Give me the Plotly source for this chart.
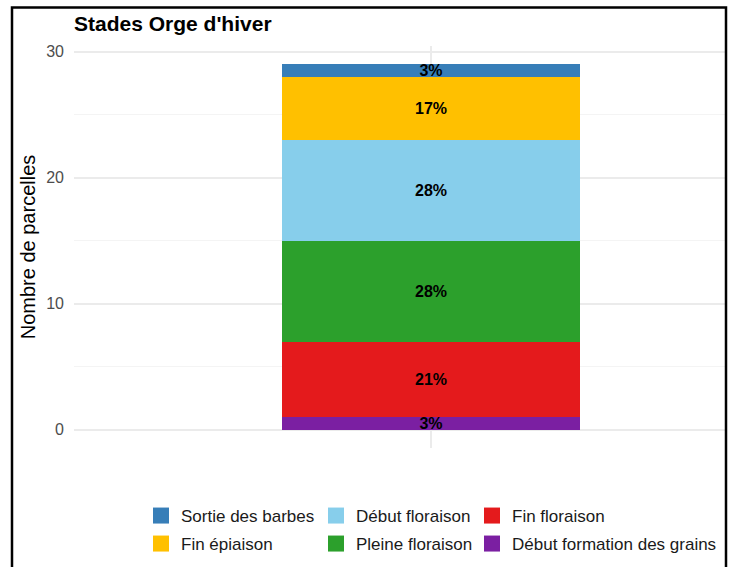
import plotly.graph_objects as go

# Data (bottom to top of stack)
stages = ["Début formation des grains", "Fin floraison", "Pleine floraison",
          "Début floraison", "Fin épiaison", "Sortie des barbes"]
counts = [1, 6, 8, 8, 5, 1]
colors = ["#7B1FA2", "#E41A1C", "#2CA02C", "#87CEEB", "#FFC000", "#377EB8"]
# legend slot for each stage (column, row) in the 3x2 key
legend_col = [2, 2, 1, 1, 0, 0]
legend_row = [1, 0, 1, 0, 1, 0]
category = ["Orge d'hiver"]
y_ticks = [0, 10, 20, 30]

total = sum(counts)
FONT = "Liberation Sans, Arial, sans-serif"

fig = go.Figure()
for name, n, col in zip(stages, counts, colors):
    fig.add_trace(go.Bar(
        x=[1], y=[n], width=0.5, name=name, showlegend=False,
        marker=dict(color=col, line=dict(width=0)),
        text=[f"{round(n / total * 100)}%"],
        textposition="inside", insidetextanchor="middle", textangle=0,
        constraintext="none",
        textfont=dict(family=FONT, size=16, color="black", weight="bold"),
        hovertext=category, cliponaxis=False,
    ))

L, R, T, B = 74, 4, 46, 119
W, H = 729, 567
pw = W - L - R
ph = H - T - B

def px_x(p):
    return (p - L) / pw

def px_y(p):
    return (H - B - p) / ph

col_left = [141, 316, 472]
row_top = [498, 526]

leg_layout = {}
for i, (name, col, c, r) in enumerate(zip(stages, colors, legend_col, legend_row)):
    idx = r * 3 + c + 1
    key = "legend" if idx == 1 else f"legend{idx}"
    fig.add_trace(go.Scatter(
        x=[None], y=[None], mode="markers", name=name, legend=key,
        marker=dict(symbol="square", size=17, color=col),
    ))
    leg_layout[key] = dict(
        x=px_x(col_left[c]), y=px_y(row_top[r]),
        orientation="v", xanchor="left", yanchor="top",
        font=dict(family=FONT, size=17, color="#1a1a1a"),
        bgcolor="rgba(0,0,0,0)", itemwidth=30,
    )

fig.update_layout(
    width=W, height=H,
    margin=dict(l=L, r=R, t=T, b=B),
    barmode="stack",
    bargap=0,
    plot_bgcolor="white", paper_bgcolor="white",
    font=dict(family=FONT),
    title=dict(text="<b>Stades Orge d'hiver</b>", x=L / W, xanchor="left",
               xref="container", y=1 - 24 / H, yanchor="middle", yref="container",
               font=dict(family=FONT, size=21, color="black")),
    xaxis=dict(range=[0.401, 1.493], tickvals=[1], ticktext=[""],
               showgrid=True, gridcolor="#EBEBEB", gridwidth=1.5,
               zeroline=False, showline=False, ticks=""),
    yaxis=dict(range=[-1.45, 30.45], tickvals=y_ticks,
               showgrid=True, gridcolor="#EBEBEB", gridwidth=1.5,
               minor=dict(dtick=5, showgrid=True, gridcolor="#F4F4F4", gridwidth=1),
               zeroline=False, showline=False, ticks="",
               ticklabelstandoff=9,
               tickfont=dict(family=FONT, size=16, color="#4D4D4D"),
               title=dict(text="Nombre de parcelles", standoff=5,
                          font=dict(family=FONT, size=20, color="black"))),
    shapes=[dict(type="rect", xref="paper", yref="paper",
                 x0=px_x(12), x1=px_x(726), y0=px_y(600), y1=px_y(7.5),
                 line=dict(color="black", width=2.5), fillcolor="rgba(0,0,0,0)",
                 layer="above")],
    **leg_layout,
)

fig.write_html("out.html",
               config={"displayModeBar": False},
               post_script="document.body.style.margin='0';"
                           "document.body.style.overflow='hidden';")
